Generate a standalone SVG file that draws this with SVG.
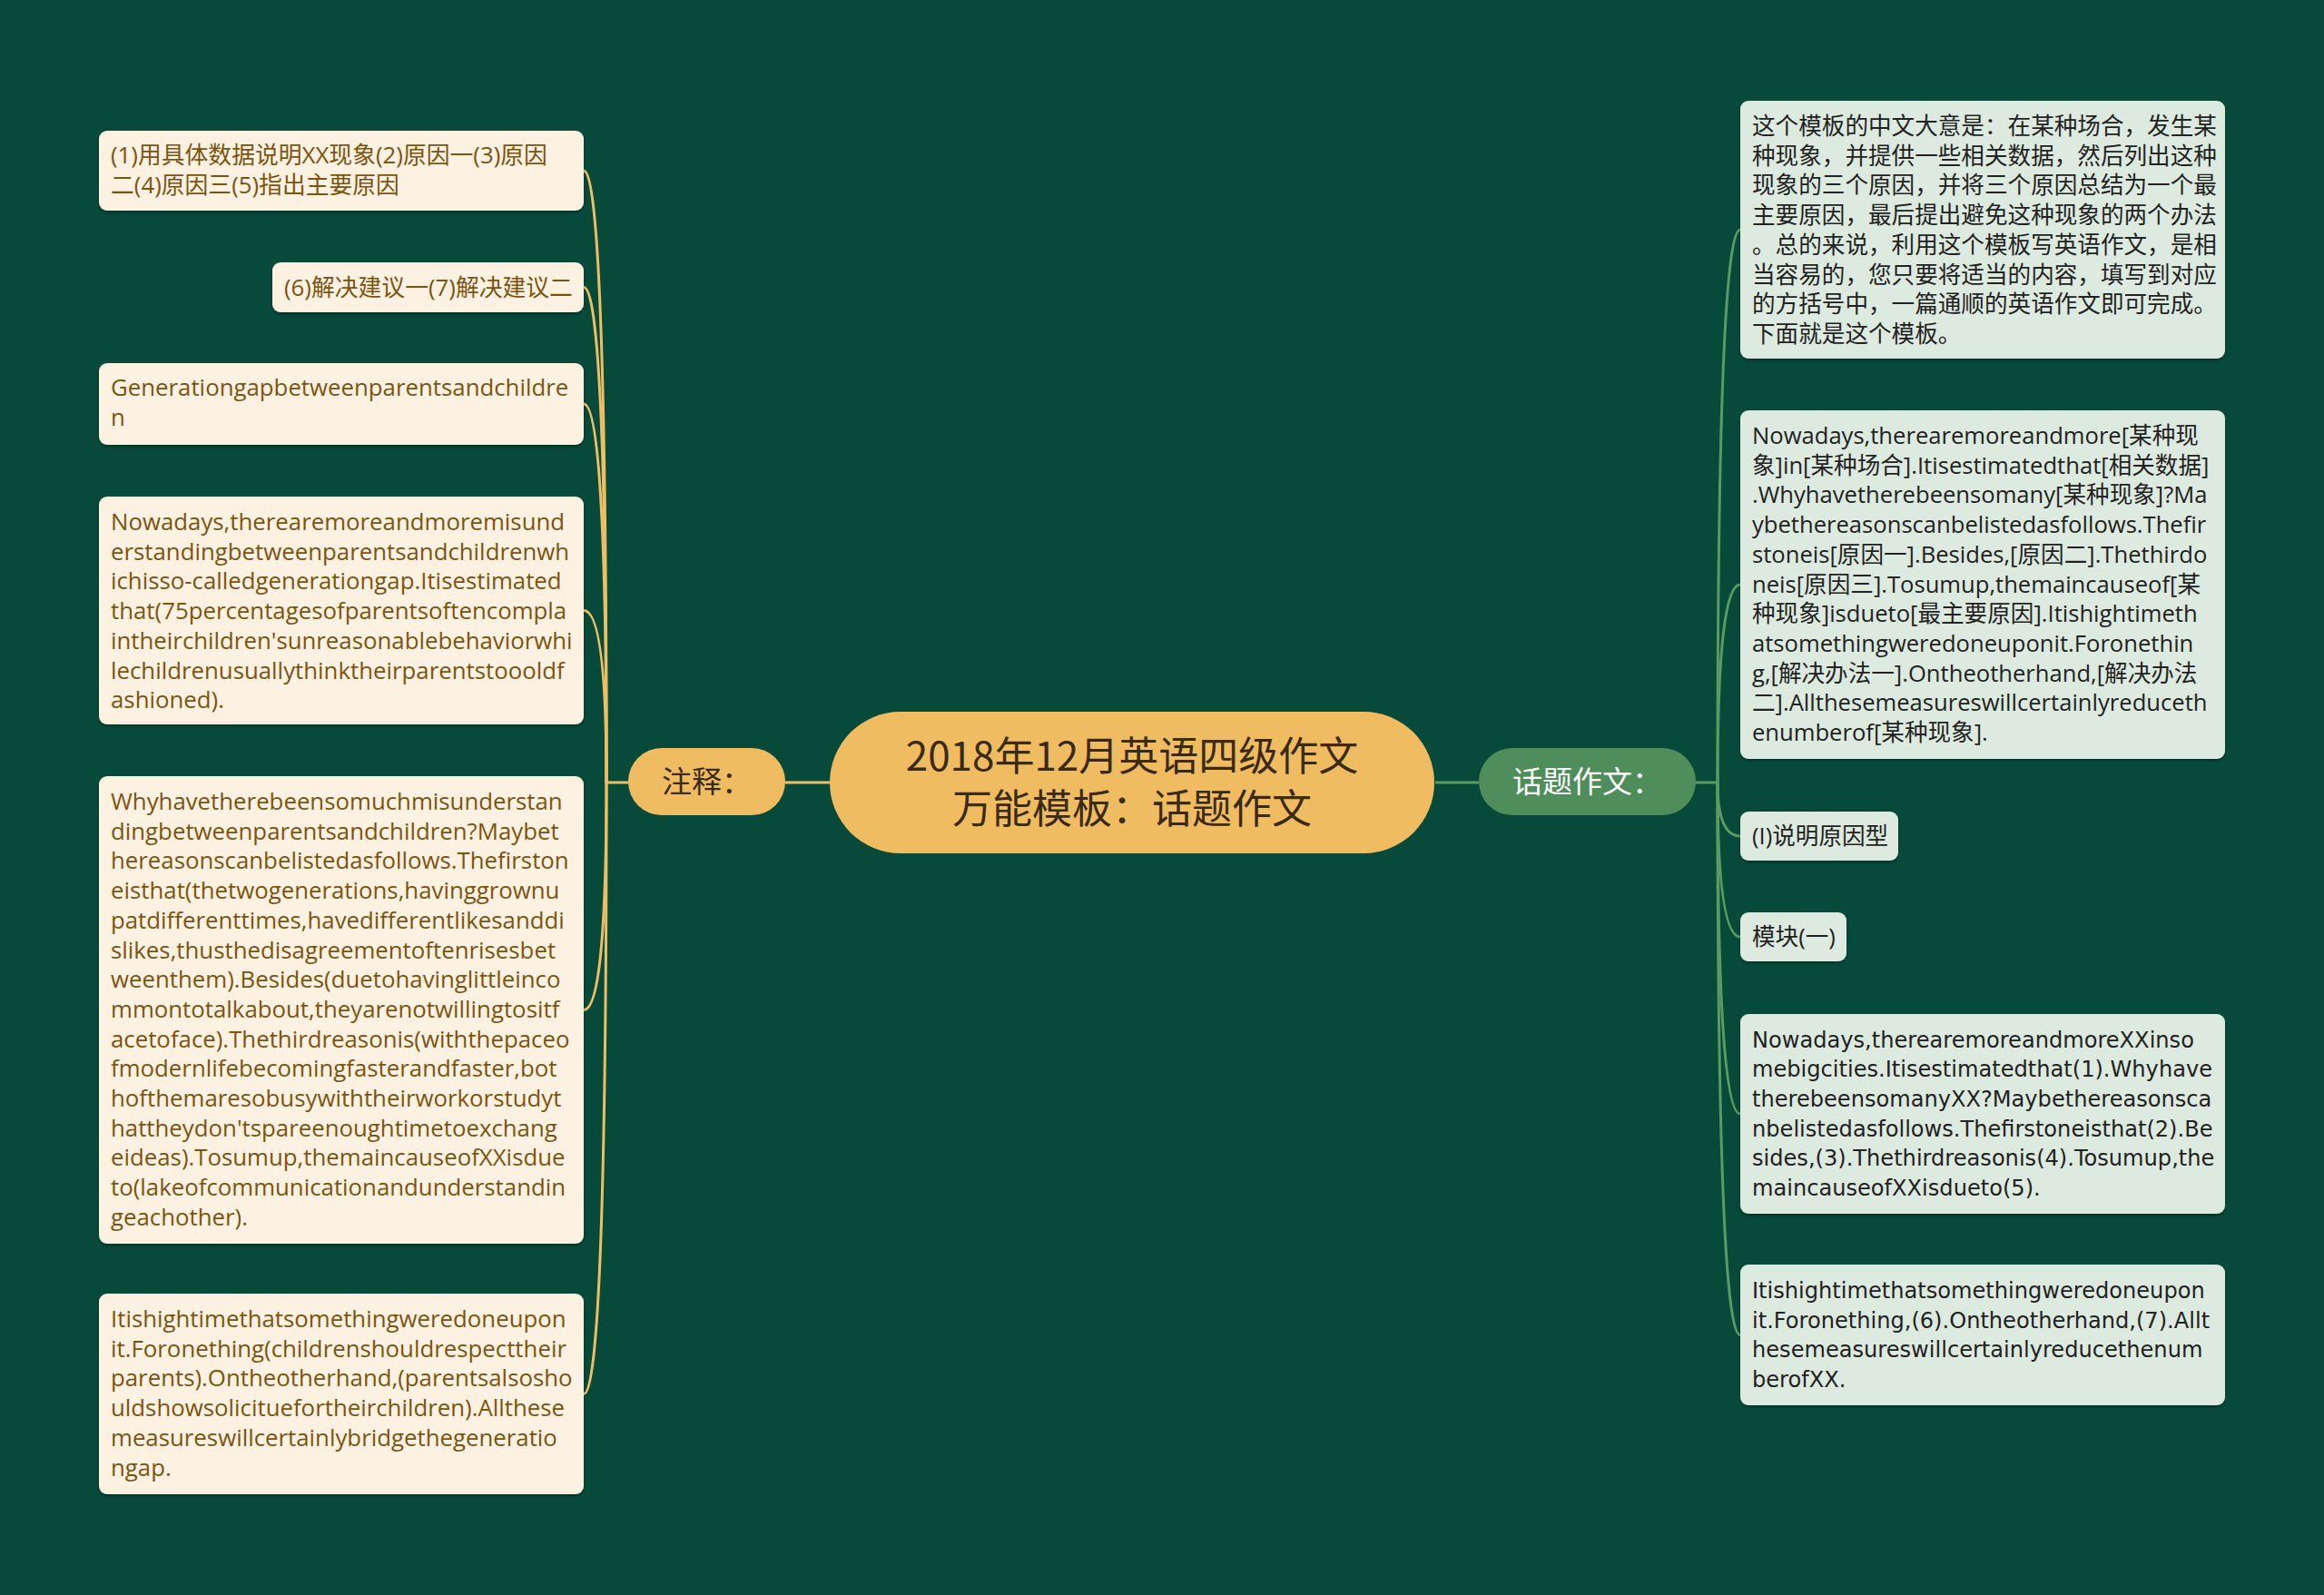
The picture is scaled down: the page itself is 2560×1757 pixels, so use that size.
<svg xmlns="http://www.w3.org/2000/svg" width="2560" height="1757" viewBox="0 0 2560 1757">
<defs>
<filter id="sh" x="-5%" y="-5%" width="110%" height="115%">
<feDropShadow dx="0" dy="2" stdDeviation="1.5" flood-color="#000" flood-opacity="0.35"/>
</filter>
<style>
.lbox{fill:#FDF1E2;filter:url(#sh)}
.rbox{fill:#DDEADF;filter:url(#sh)}
.lt{font-family:'Open Sans','Noto Sans CJK SC',sans-serif;font-size:25.8px;fill:#7C5410}
.rt{font-family:'Open Sans','Noto Sans CJK SC',sans-serif;font-size:25.6px;fill:#222}
.rt2{font-family:'DejaVu Sans','Noto Sans CJK SC',sans-serif;font-size:24.1px;fill:#222}
.oc{fill:none;stroke:#EDBE66;stroke-width:3}
.gc{fill:none;stroke:#5A9A63;stroke-width:3}
.title{font-family:'Noto Sans CJK SC',sans-serif;font-size:44px;fill:#3A2A12;text-anchor:middle}
.sub{font-family:'Noto Sans CJK SC',sans-serif;font-size:33px;text-anchor:middle}
</style>
</defs>
<rect width="2560" height="1757" fill="#074A39"/>

<g id="connectors">
<path class="oc" d="M865 862H914" stroke-width="4"/>
<path class="gc" d="M1581 862H1629" stroke-width="4"/>
<path class="oc" d="M692 862H668"/>
<path class="oc" d="M668 862Q668 188 643 188"/>
<path class="oc" d="M668 862Q668 316.5 643 316.5"/>
<path class="oc" d="M668 862Q668 445 643 445"/>
<path class="oc" d="M668 862Q668 672.5 643 672.5"/>
<path class="oc" d="M668 862Q668 1112.5 643 1112.5"/>
<path class="oc" d="M668 862Q668 1535.5 643 1535.5"/>
<path class="gc" d="M1868 862H1892"/>
<path class="gc" d="M1892 862Q1892 253 1917 253"/>
<path class="gc" d="M1892 862Q1892 644 1917 644"/>
<path class="gc" d="M1892 862Q1892 921 1917 921"/>
<path class="gc" d="M1892 862Q1892 1032 1917 1032"/>
<path class="gc" d="M1892 862Q1892 1227 1917 1227"/>
<path class="gc" d="M1892 862Q1892 1470.5 1917 1470.5"/>
</g>

<g id="root">
<rect x="914" y="784" width="666" height="156" rx="78" fill="#F0BC62"/>
<text class="title" x="1247" y="849">2018年12月英语四级作文</text>
<text class="title" x="1247" y="907">万能模板：话题作文</text>
</g>

<g id="n-zhushi">
<rect x="692" y="824" width="173" height="74" rx="37" fill="#F0BC62"/>
<text class="sub" x="778.5" y="873" fill="#3A2A12">注释：</text>
</g>

<g id="n-huati">
<rect x="1629" y="824" width="239" height="74" rx="37" fill="#4F8E5A"/>
<text class="sub" x="1748.5" y="873" fill="#FFFFFF">话题作文：</text>
</g>

<g id="l1">
<rect class="lbox" x="109" y="144" width="534" height="88" rx="9"/>
<text class="lt" x="122" y="180">(1)用具体数据说明XX现象(2)原因一(3)原因</text>
<text class="lt" x="122" y="213">二(4)原因三(5)指出主要原因</text>
</g>

<g id="l2">
<rect class="lbox" x="300" y="289" width="343" height="55" rx="9"/>
<text class="lt" x="313" y="326">(6)解决建议一(7)解决建议二</text>
</g>

<g id="l3">
<rect class="lbox" x="109" y="400" width="534" height="90" rx="9"/>
<text class="lt" x="122" y="436">Generationgapbetweenparentsandchildre</text>
<text class="lt" x="122" y="469">n</text>
</g>

<g id="l4">
<rect class="lbox" x="109" y="547" width="534" height="251" rx="9"/>
<text class="lt" x="122" y="584">Nowadays,therearemoreandmoremisund</text>
<text class="lt" x="122" y="616.7">erstandingbetweenparentsandchildrenwh</text>
<text class="lt" x="122" y="649.4">ichisso-calledgenerationgap.Itisestimated</text>
<text class="lt" x="122" y="682.1">that(75percentagesofparentsoftencompla</text>
<text class="lt" x="122" y="714.8">intheirchildren'sunreasonablebehaviorwhi</text>
<text class="lt" x="122" y="747.5">lechildrenusuallythinktheirparentstoooldf</text>
<text class="lt" x="122" y="780.2">ashioned).</text>
</g>

<g id="l5">
<rect class="lbox" x="109" y="855" width="534" height="515" rx="9"/>
<text class="lt" x="122" y="892">Whyhavetherebeensomuchmisunderstan</text>
<text class="lt" x="122" y="924.7">dingbetweenparentsandchildren?Maybet</text>
<text class="lt" x="122" y="957.4">hereasonscanbelistedasfollows.Thefirston</text>
<text class="lt" x="122" y="990.1">eisthat(thetwogenerations,havinggrownu</text>
<text class="lt" x="122" y="1022.8">patdifferenttimes,havedifferentlikesanddi</text>
<text class="lt" x="122" y="1055.5">slikes,thusthedisagreementoftenrisesbet</text>
<text class="lt" x="122" y="1088.2">weenthem).Besides(duetohavinglittleinco</text>
<text class="lt" x="122" y="1120.9">mmontotalkabout,theyarenotwillingtositf</text>
<text class="lt" x="122" y="1153.6">acetoface).Thethirdreasonis(withthepaceo</text>
<text class="lt" x="122" y="1186.3">fmodernlifebecomingfasterandfaster,bot</text>
<text class="lt" x="122" y="1219">hofthemaresobusywiththeirworkorstudyt</text>
<text class="lt" x="122" y="1251.7">hattheydon'tspareenoughtimetoexchang</text>
<text class="lt" x="122" y="1284.4">eideas).Tosumup,themaincauseofXXisdue</text>
<text class="lt" x="122" y="1317.1">to(lakeofcommunicationandunderstandin</text>
<text class="lt" x="122" y="1349.8">geachother).</text>
</g>

<g id="l6">
<rect class="lbox" x="109" y="1425" width="534" height="221" rx="9"/>
<text class="lt" x="122" y="1462">Itishightimethatsomethingweredoneupon</text>
<text class="lt" x="122" y="1494.7">it.Foronething(childrenshouldrespecttheir</text>
<text class="lt" x="122" y="1527.4">parents).Ontheotherhand,(parentsalsosho</text>
<text class="lt" x="122" y="1560.1">uldshowsolicituefortheirchildren).Allthese</text>
<text class="lt" x="122" y="1592.8">measureswillcertainlybridgethegeneratio</text>
<text class="lt" x="122" y="1625.5">ngap.</text>
</g>

<g id="r1">
<rect class="rbox" x="1917" y="111" width="534" height="284" rx="9"/>
<text class="rt" x="1930" y="148">这个模板的中文大意是：在某种场合，发生某</text>
<text class="rt" x="1930" y="180.7">种现象，并提供一些相关数据，然后列出这种</text>
<text class="rt" x="1930" y="213.4">现象的三个原因，并将三个原因总结为一个最</text>
<text class="rt" x="1930" y="246.1">主要原因，最后提出避免这种现象的两个办法</text>
<text class="rt" x="1930" y="278.8">。总的来说，利用这个模板写英语作文，是相</text>
<text class="rt" x="1930" y="311.5">当容易的，您只要将适当的内容，填写到对应</text>
<text class="rt" x="1930" y="344.2">的方括号中，一篇通顺的英语作文即可完成。</text>
<text class="rt" x="1930" y="376.9">下面就是这个模板。</text>
</g>

<g id="r2">
<rect class="rbox" x="1917" y="452" width="534" height="384" rx="9"/>
<text class="rt" x="1930" y="489">Nowadays,therearemoreandmore[某种现</text>
<text class="rt" x="1930" y="521.7">象]in[某种场合].Itisestimatedthat[相关数据]</text>
<text class="rt" x="1930" y="554.4">.Whyhavetherebeensomany[某种现象]?Ma</text>
<text class="rt" x="1930" y="587.1">ybethereasonscanbelistedasfollows.Thefir</text>
<text class="rt" x="1930" y="619.8">stoneis[原因一].Besides,[原因二].Thethirdo</text>
<text class="rt" x="1930" y="652.5">neis[原因三].Tosumup,themaincauseof[某</text>
<text class="rt" x="1930" y="685.2">种现象]isdueto[最主要原因].Itishightimeth</text>
<text class="rt" x="1930" y="717.9">atsomethingweredoneuponit.Foronethin</text>
<text class="rt" x="1930" y="750.6">g,[解决办法一].Ontheotherhand,[解决办法</text>
<text class="rt" x="1930" y="783.3">二].Allthesemeasureswillcertainlyreduceth</text>
<text class="rt" x="1930" y="816">enumberof[某种现象].</text>
</g>

<g id="r3">
<rect class="rbox" x="1917" y="894" width="174" height="54" rx="9"/>
<text class="rt" x="1930" y="930">(I)说明原因型</text>
</g>

<g id="r4">
<rect class="rbox" x="1917" y="1005" width="117" height="54" rx="9"/>
<text class="rt" x="1930" y="1041">模块(一)</text>
</g>

<g id="r5">
<rect class="rbox" x="1917" y="1117" width="534" height="220" rx="9"/>
<text class="rt2" x="1930" y="1153.5">Nowadays,therearemoreandmoreXXinso</text>
<text class="rt2" x="1930" y="1186.2">mebigcities.Itisestimatedthat(1).Whyhave</text>
<text class="rt2" x="1930" y="1218.9">therebeensomanyXX?Maybethereasonsca</text>
<text class="rt2" x="1930" y="1251.6">nbelistedasfollows.Thefirstoneisthat(2).Be</text>
<text class="rt2" x="1930" y="1284.3">sides,(3).Thethirdreasonis(4).Tosumup,the</text>
<text class="rt2" x="1930" y="1317">maincauseofXXisdueto(5).</text>
</g>

<g id="r6">
<rect class="rbox" x="1917" y="1393" width="534" height="155" rx="9"/>
<text class="rt2" x="1930" y="1430">Itishightimethatsomethingweredoneupon</text>
<text class="rt2" x="1930" y="1462.7">it.Foronething,(6).Ontheotherhand,(7).Allt</text>
<text class="rt2" x="1930" y="1495.4">hesemeasureswillcertainlyreducethenum</text>
<text class="rt2" x="1930" y="1528.1">berofXX.</text>
</g>
</svg>
